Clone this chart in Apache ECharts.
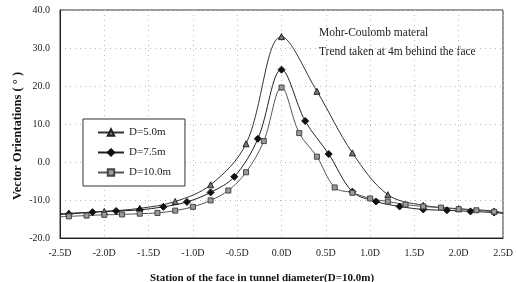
<!DOCTYPE html>
<html>
<head>
<meta charset="utf-8">
<script src="https://cdn.jsdelivr.net/npm/echarts@6/dist/echarts.min.js"></script>
<style>
  html, body { margin: 0; padding: 0; background: #fff; }
  #chart { width: 516px; height: 282px; }
</style>
</head>
<body>
<div id="chart"></div>
<script>
// station in units of D, vector orientation in degrees
const xTri = [-2.5, -2.4, -2.0, -1.6, -1.2, -0.8, -0.4, 0, 0.4, 0.8, 1.2, 1.6, 2.0, 2.4, 2.5]
const yTri = [-13.6, -13.5, -13.0, -12.2, -10.4, -6.0, 4.8, 33.0, 18.6, 2.4, -8.6, -11.4, -12.3, -12.9, -13.4]

const xDia = [-2.5, -2.4, -2.133, -1.867, -1.6, -1.333, -1.067, -0.8, -0.533, -0.267, 0,
  0.267, 0.533, 0.8, 1.067, 1.333, 1.6, 1.867, 2.133, 2.4, 2.5]
const yDia = [-13.8, -13.7, -13.2, -12.9, -12.6, -11.8, -10.5, -8.0, -3.9, 6.1, 24.3,
  10.8, 2.1, -7.8, -10.4, -11.7, -12.5, -12.7, -13.0, -13.3, -13.5]

const xSq = [-2.5, -2.4, -2.2, -2.0, -1.8, -1.6, -1.4, -1.2, -1.0, -0.8, -0.6, -0.4, -0.2, 0,
  0.2, 0.4, 0.6, 0.8, 1.0, 1.2, 1.4, 1.6, 1.8, 2.0, 2.2, 2.4, 2.5]
const ySq = [-14.4, -14.3, -14.1, -13.9, -13.8, -13.6, -13.4, -12.8, -11.8, -10.1, -7.5, -2.7, 5.5, 19.6,
  7.6, 1.4, -6.7, -8.1, -9.6, -10.4, -11.2, -11.7, -12.0, -12.4, -12.7, -13.1, -13.5]

const seriesNames = ['D=5.0m', 'D=7.5m', 'D=10.0m']
const yTicks = [-20, -10, 0, 10, 20, 30, 40]
const xTicks = [-2.5, -2.0, -1.5, -1.0, -0.5, 0, 0.5, 1.0, 1.5, 2.0, 2.5]
const notes = ['Mohr-Coulomb materal', 'Trend taken at 4m behind the face']
const xTitle = 'Station of the face in tunnel diameter(D=10.0m)'
const yTitle = 'Vector Orientations ( ° )'

const serif = '"Liberation Serif", "DejaVu Serif", serif'

// points at the border ends carry no marker
function pairs (xs, ys) {
  return xs.map((x, i) => {
    const item = { value: [x, ys[i]] }
    if (Math.abs(x) === 2.5) item.symbol = 'none'
    return item
  })
}

const chart = echarts.init(document.getElementById('chart'), null, { renderer: 'canvas' })

const option = {
  animation: false,
  backgroundColor: '#fff',
  grid: {
    left: 60, right: 13, top: 10, bottom: 44,
    outerBoundsMode: 'none',
    containLabel: false,
    show: true, borderColor: '#333', borderWidth: 1
  },
  xAxis: {
    type: 'value',
    min: xTicks[0],
    max: xTicks[xTicks.length - 1],
    interval: 0.5,
    axisLine: { onZero: false, lineStyle: { color: '#222' } },
    axisTick: { show: false },
    axisLabel: {
      fontFamily: serif, fontSize: 10, color: '#222', margin: 10,
      formatter: v => v.toFixed(1) + 'D'
    },
    splitLine: { show: true, lineStyle: { color: '#bbb', type: [1, 4] } }
  },
  yAxis: {
    type: 'value',
    min: yTicks[0],
    max: yTicks[yTicks.length - 1],
    interval: 10,
    axisLine: { show: true, onZero: false, lineStyle: { color: '#222' } },
    axisTick: { show: false },
    axisLabel: {
      fontFamily: serif, fontSize: 10, color: '#222', margin: 10,
      formatter: v => v.toFixed(1)
    },
    splitLine: { show: true, lineStyle: { color: '#bbb', type: [1, 4] } }
  },
  legend: {
    orient: 'vertical',
    left: 83, top: 119,
    width: 97,
    padding: [8, 14, 8, 14],
    itemGap: 9,
    itemWidth: 26, itemHeight: 8,
    backgroundColor: '#fff',
    borderColor: '#333', borderWidth: 1,
    textStyle: { fontFamily: serif, fontSize: 11, color: '#222' },
    data: seriesNames
  },
  graphic: [
    { type: 'text', left: 319, top: 27, style: { text: notes[0], font: '11.5px ' + serif, fill: '#222' } },
    { type: 'text', left: 319, top: 46, style: { text: notes[1], font: '11.5px ' + serif, fill: '#222' } },
    {
      type: 'text', x: 262, y: 278,
      style: { text: xTitle, font: 'bold 11px ' + serif, fill: '#111', align: 'center', verticalAlign: 'middle' }
    },
    {
      type: 'text', x: 18, y: 136, rotation: Math.PI / 2,
      style: { text: yTitle, font: 'bold 12.5px ' + serif, fill: '#111', align: 'center', verticalAlign: 'middle' }
    }
  ],
  series: [
    {
      name: seriesNames[0], type: 'line', smooth: 0.35,
      symbol: 'triangle', symbolSize: 6,
      lineStyle: { color: '#333', width: 1 },
      itemStyle: { color: '#777', borderColor: '#222', borderWidth: 1 },
      data: pairs(xTri, yTri)
    },
    {
      name: seriesNames[1], type: 'line', smooth: 0.35,
      symbol: 'diamond', symbolSize: 7,
      lineStyle: { color: '#222', width: 1 },
      itemStyle: { color: '#111', borderColor: '#111', borderWidth: 1 },
      data: pairs(xDia, yDia)
    },
    {
      name: seriesNames[2], type: 'line', smooth: 0.35,
      symbol: 'rect', symbolSize: 5,
      lineStyle: { color: '#555', width: 1 },
      itemStyle: { color: '#999', borderColor: '#444', borderWidth: 1 },
      data: pairs(xSq, ySq)
    }
  ]
}

chart.setOption(option)
</script>
</body>
</html>
